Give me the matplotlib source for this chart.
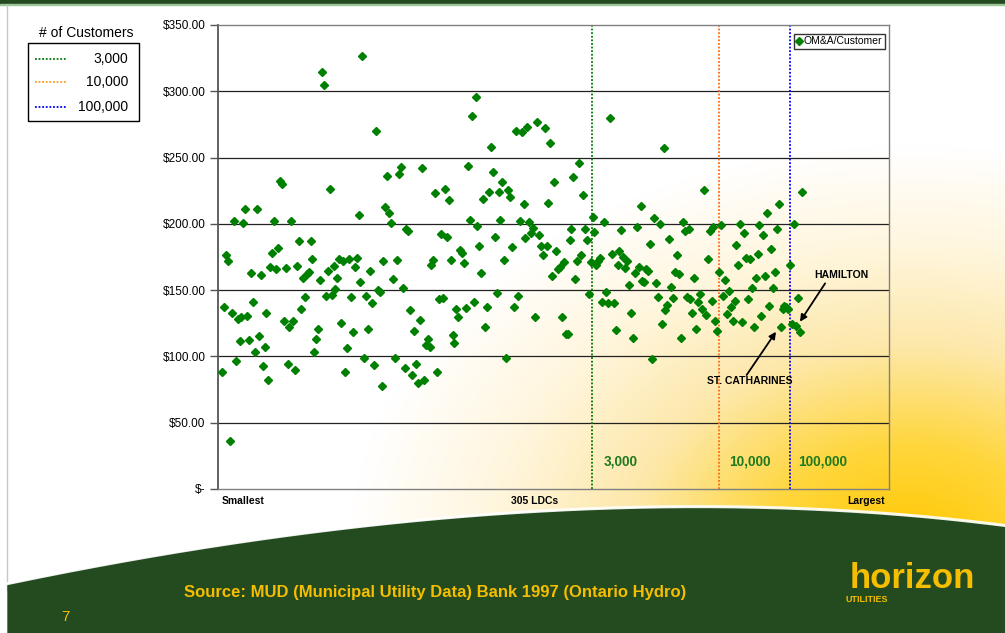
import numpy as np
import matplotlib
matplotlib.use('Agg')
import matplotlib.pyplot as plt
from matplotlib.patches import Rectangle, Polygon
from matplotlib.lines import Line2D

plt.rcParams['font.family'] = ['Liberation Sans', 'DejaVu Sans']

# OM&A per customer ($), one value per LDC, ranked smallest to largest utility
om_a_per_customer = [
    88.3, 137.3, 176.2, 172.0, 36.5, 132.8, 202.4, 96.3, 128.5, 111.4,
    129.7, 200.3, 211.2, 130.2, 112.2, 163.1, 141.3, 103.1, 210.9, 115.4,
    161.2, 92.8, 106.9, 132.8, 82.0, 167.7, 178.0, 202.4, 166.2, 181.5,
    232.3, 230.2, 126.7, 166.9, 94.3, 122.0, 202.1, 126.5, 90.0, 167.9,
    187.3, 135.5, 159.4, 144.6, 162.2, 163.9, 187.3, 173.7,
    103.1, 113.2, 120.4, 157.9, 314.2, 304.6, 145.8, 164.7, 226.5, 146.3,
    168.4, 151.1, 159.4, 173.7, 125.0, 172.0, 88.0, 106.6, 173.5, 144.6,
    118.7, 167.2, 174.2, 206.6, 156.4, 326.7, 98.8, 145.8, 120.7, 164.7,
    140.0, 93.8, 269.7, 150.3, 148.3, 78.0, 172.0, 212.7, 236.0, 208.4,
    200.3, 158.4, 98.6, 172.5, 237.8, 242.6, 151.3, 91.0, 196.1, 194.3,
    134.8, 85.8,
    119.2, 94.6, 80.2, 127.5, 242.0, 82.5, 108.9, 113.4, 106.9, 169.2,
    173.0, 223.5, 88.3, 143.6, 192.3, 144.1, 226.0, 189.8, 217.7, 172.5,
    116.4, 109.9, 135.8, 129.5, 180.2, 177.7, 170.7, 136.3, 243.8, 203.1,
    281.0, 141.0, 295.8, 198.3, 183.5, 162.7, 218.7, 122.5, 137.3, 223.7,
    257.9, 239.0, 190.0, 147.6, 224.0, 202.6, 231.3, 173.0, 98.8, 225.7,
    220.4,
    182.3, 137.0, 269.7, 145.8, 202.4, 269.2, 215.2, 189.3, 273.0, 201.1,
    193.3, 196.8, 129.5, 276.5, 191.3, 183.5, 176.5, 272.2, 183.0, 215.7,
    260.9, 160.9, 231.8, 179.5, 165.9, 167.4, 129.5, 171.5, 116.7, 116.7,
    187.5, 196.3, 235.0, 158.6, 171.7, 245.6, 176.7, 221.7, 196.1, 187.8,
    146.8, 171.2, 205.4, 194.1, 168.7, 171.7, 174.2, 141.0, 201.3, 148.3,
    140.5, 280.2,
    177.2, 140.0, 120.2, 169.2, 179.2, 195.3, 175.2, 166.7, 171.7, 154.1,
    132.5, 114.2, 163.2, 197.3, 167.7, 213.2, 157.1, 156.1, 166.2, 164.7,
    185.0, 98.3, 204.4, 155.6, 144.8, 199.8, 124.7, 257.1, 135.0, 139.0,
    188.8, 152.1, 144.1, 163.4, 176.2, 161.9, 113.7, 201.3, 194.8, 145.1,
    196.3, 143.1, 132.8, 159.1, 121.0, 140.8, 147.1, 135.5, 225.5, 131.5,
    173.2,
    194.3, 141.5, 197.8, 126.7, 119.4, 163.7, 198.8, 145.6, 157.6, 132.0,
    149.6, 137.5, 126.7, 142.0, 184.0, 168.7, 199.8, 125.7, 193.0, 174.5,
    143.6, 173.2, 151.3, 122.0, 159.4, 177.2, 198.8, 130.7, 191.8, 160.4,
    207.9, 137.8, 181.3, 151.9, 163.4, 196.1, 215.2, 122.5, 135.5, 138.3,
    137.0, 136.0, 168.7, 124.5, 200.1, 123.0, 144.3, 118.4, 224.0,
]

# customer-count thresholds (rank where each size class starts)
size_labels = ['3,000', '10,000', '100,000']
size_rank = [193.5, 259.7, 297.1]
size_colors = ['#007A00', '#FF6A10', '#0000FF']
legend_colors = ['#007A00', '#FF9A20', '#0000FF']
size_text_rank = [199.6, 265.3, 301.2]

y_ticks = [0, 50, 100, 150, 200, 250, 300, 350]

# named utilities: label, text position, arrow tail, arrow head (rank, $)
callouts = [
    ('HAMILTON', (323.9, 161.4), (315.2, 155.1), (302.1, 126.2)),
    ('ST. CATHARINES', (276.1, 81.4), (274.3, 86.0), (289.6, 118.6)),
]

GOLD = '#F5BE00'
DARK_GREEN = '#244A1F'
W, H = 1005, 633


def px(x, y):
    return x / W, 1 - y / H


fig = plt.figure(figsize=(W / 100, H / 100), dpi=100)

# slide background: white with a warm glow towards the lower right
bg = fig.add_axes([0, 0, 1, 1])
bg.set_xlim(0, W)
bg.set_ylim(H, 0)
bg.axis('off')
yy, xx = np.mgrid[0:H, 0:W]
d = np.sqrt(((xx - 910) / 560.0) ** 2 + ((yy - 545) / 400.0) ** 2)
stops = [0.0, 0.25, 0.5, 0.75, 1.0]
img = np.dstack([
    np.interp(d, stops, [255, 255, 253, 255, 255]),
    np.interp(d, stops, [200, 214, 232, 246, 255]),
    np.interp(d, stops, [0, 60, 170, 222, 255]),
]) / 255.0
bg.imshow(img, extent=[0, W, H, 0], aspect='auto', zorder=0)

# top banner
bg.add_patch(Rectangle((0, 0), W, 4, color=DARK_GREEN, zorder=1))
bg.add_patch(Rectangle((0, 4), W, 1.2, color='#9CC59A', zorder=1))
bg.plot([7, 7], [5, 590], color='#C8C8C8', lw=1, zorder=1)

# bottom swoosh
t = np.linspace(0, 1, 200)
p0, c, p2 = np.array([8, 585]), np.array([560, 470]), np.array([1005, 527])
curve = ((1 - t) ** 2)[:, None] * p0 + (2 * (1 - t) * t)[:, None] * c + (t ** 2)[:, None] * p2
verts = np.vstack([curve, [[1005, 633], [8, 633]]])
bg.add_patch(Polygon(verts, closed=True, color=DARK_GREEN, zorder=2))
bg.plot(curve[:, 0], curve[:, 1] - 1.5, color='white', lw=2.2, alpha=0.9, zorder=2)

bg.text(435, 592, 'Source: MUD (Municipal Utility Data) Bank 1997 (Ontario Hydro)',
        color=GOLD, fontsize=12, fontweight='bold', ha='center', va='center', zorder=3)
bg.text(65, 617, '7', color=GOLD, fontsize=11, ha='center', va='center', zorder=3)

# company logo
bg.text(912, 588, 'horizon', color=GOLD, fontsize=25, fontweight='bold',
        ha='center', va='baseline', zorder=3)
bg.text(846, 600, 'UTILITIES', color=GOLD, fontsize=6.5, fontweight='bold',
        ha='left', va='center', zorder=3)

# scatter chart
ax = fig.add_axes([218 / W, 1 - 489 / H, 671 / W, 464 / H])
ax.set_facecolor('none')
rank = np.arange(1, len(om_a_per_customer) + 1)
ax.plot(rank, om_a_per_customer, linestyle='none', marker='D', markersize=3.8,
        color='#008000', label='OM&A/Customer', zorder=3)

ax.set_xlim(-1.24, 348.5)
ax.set_ylim(0, 350)
ax.set_yticks(y_ticks)
ax.set_yticklabels(['$-' if v == 0 else '${:.2f}'.format(v) for v in y_ticks], fontsize=8.5)
ax.tick_params(axis='y', direction='out', length=6, width=1, color='#555555', pad=3)
ax.set_xticks([])
for v in y_ticks[1:-1]:
    ax.axhline(v, color='#222222', lw=0.9, zorder=1)
ax.spines['left'].set_color('#555555')
ax.spines['left'].set_linewidth(1.3)
for s in ['top', 'right', 'bottom']:
    ax.spines[s].set_color('#808080')
    ax.spines[s].set_linewidth(1)

for r, col in zip(size_rank, size_colors):
    ax.axvline(r, color=col, ls=(0, (1, 1)), lw=1.3, zorder=2)
for r, lab in zip(size_text_rank, size_labels):
    ax.text(r, 20.4, lab, color='#1F7A1F', fontsize=9.8, fontweight='bold',
            ha='left', va='center')

for name, txt, tail, head in callouts:
    ax.text(txt[0], txt[1], name, fontsize=7.5, fontweight='bold', ha='center', va='center')
    ax.annotate('', xy=head, xytext=tail,
                arrowprops=dict(arrowstyle='-|>', color='black', lw=1.3,
                                mutation_scale=10, shrinkA=0, shrinkB=0))

ax.text(0.005, -0.025, 'Smallest', transform=ax.transAxes, fontsize=7.5,
        fontweight='bold', ha='left', va='center')
ax.text(0.472, -0.025, '305 LDCs', transform=ax.transAxes, fontsize=7.5,
        fontweight='bold', ha='center', va='center')
ax.text(0.994, -0.025, 'Largest', transform=ax.transAxes, fontsize=7.5,
        fontweight='bold', ha='right', va='center')

leg = ax.legend(loc='upper right', bbox_to_anchor=(0.994, 0.981), fontsize=7.5,
                frameon=True, fancybox=False, borderpad=0.25, handlelength=0.4,
                handletextpad=0.3, borderaxespad=0)
leg.get_frame().set_edgecolor('black')
leg.get_frame().set_linewidth(1)

# customer-size key on the left
fig.text(*px(86.7, 33.3), '# of Customers', fontsize=10, ha='center', va='center')
fig.add_artist(Rectangle(px(28, 121), 111 / W, 78 / H, transform=fig.transFigure,
                         facecolor='white', edgecolor='black', lw=1))
for yk, lab, col in zip([59.3, 82.0, 106.7], size_labels, legend_colors):
    x0, y0 = px(35, yk)
    x1, _ = px(66, yk)
    fig.add_artist(Line2D([x0, x1], [y0, y0], color=col, ls=(0, (1, 1)), lw=1.3,
                          transform=fig.transFigure))
    fig.text(*px(128, yk), lab, fontsize=10, ha='right', va='center')

fig.savefig('out.png', dpi=100)
